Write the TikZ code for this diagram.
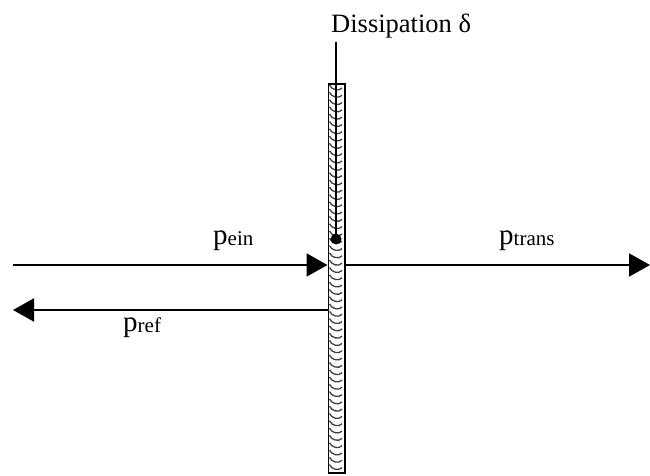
\documentclass[tikz,border=0pt]{standalone}
\usepackage{fontspec}
\setmainfont{Liberation Serif}
\usetikzlibrary{arrows.meta}
\tikzset{
  flow/.style={line width=2pt,-{Triangle[length=21pt,width=23pt]}},
  lbl/.style={anchor=base west,inner sep=0pt,font=\rmfamily},
  hatch/.style={black!75,line width=1.3pt},
}
\newcommand{\bigp}[1]{{\fontsize{29}{29}\selectfont p}\raisebox{-1pt}{\fontsize{21}{21}\selectfont #1}}
\begin{document}
\begin{tikzpicture}[x=1pt,y=-1pt]
\useasboundingbox (0,0) rectangle (650,476);
% strip hatching
\foreach \yy in {85,92.3,...,467}{
  \draw[hatch] (329.5,\yy) .. controls (331.5,\yy+5) and (339,\yy+6.5) .. (342,\yy+3);
}
\node[draw,line width=1.6pt,minimum width=16.5pt,minimum height=389pt,inner sep=0pt,anchor=north west] (strip) at (327.5,83) {};
% points
\coordinate (dot) at (336,239);
\coordinate (ein0) at (13,265);
\coordinate (einT) at (strip.west |- ein0);
\coordinate (tr0) at (strip.east |- ein0);
\coordinate (trT) at (650,265);
\coordinate (ref0) at (328,310);
\coordinate (refT) at (13,310);
% label and leader
\node[lbl] (diss) at (331,33) {\fontsize{26.5}{26.5}\selectfont Dissipation δ};
\draw[line width=1.6pt] (336,42) -- (dot);
\fill (dot) circle (5.5pt);
% arrows
\draw[flow] (ein0) -- (einT);
\draw[flow] (tr0) -- (trT);
\draw[flow] (ref0) -- (refT);
\node[lbl] (pein) at (213,244) {\bigp{ein}};
\node[lbl] (ptrans) at (499,244) {\bigp{trans}};
\node[lbl] (pref) at (123,331) {\bigp{ref}};
\end{tikzpicture}
\end{document}
